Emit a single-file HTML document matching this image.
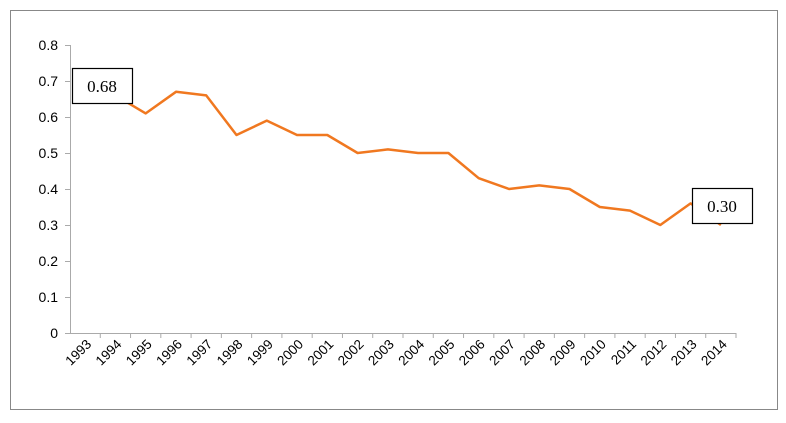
<!DOCTYPE html>
<html><head><meta charset="utf-8"><style>html,body{margin:0;padding:0;background:#fff}</style></head>
<body>
<svg width="786" height="418" xmlns="http://www.w3.org/2000/svg" font-family="Liberation Sans, sans-serif">
<rect x="10.5" y="10.5" width="767" height="399" fill="#fff" stroke="#888" stroke-width="1"/>
<g stroke="#aaa" stroke-width="1">
<line x1="70.5" y1="45" x2="70.5" y2="333"/>
<line x1="70" y1="333.5" x2="736" y2="333.5"/>
<line x1="65" y1="45.5" x2="70" y2="45.5"/><line x1="65" y1="81.5" x2="70" y2="81.5"/><line x1="65" y1="117.5" x2="70" y2="117.5"/><line x1="65" y1="153.5" x2="70" y2="153.5"/><line x1="65" y1="189.5" x2="70" y2="189.5"/><line x1="65" y1="225.5" x2="70" y2="225.5"/><line x1="65" y1="261.5" x2="70" y2="261.5"/><line x1="65" y1="297.5" x2="70" y2="297.5"/><line x1="65" y1="333.5" x2="70" y2="333.5"/>
</g>
<g id="xt" stroke="#aaa"></g>
<g font-size="14" fill="#000" text-anchor="end">
<text x="58" y="50">0.8</text><text x="58" y="86">0.7</text><text x="58" y="122">0.6</text><text x="58" y="158">0.5</text><text x="58" y="194">0.4</text><text x="58" y="230">0.3</text><text x="58" y="266">0.2</text><text x="58" y="302">0.1</text><text x="58" y="338">0</text>
</g>
<g id="xl" font-size="13.5" fill="#000" text-anchor="end"></g>
<polyline id="ln" fill="none" stroke="#f07820" stroke-width="2.5" stroke-linejoin="round"/>
<rect x="72.5" y="68.5" width="60" height="35" fill="#fff" stroke="#000" stroke-width="1.2"/>
<text x="102" y="92" font-family="Liberation Serif, serif" font-size="17" text-anchor="middle">0.68</text>
<rect x="692.5" y="188.5" width="60" height="35" fill="#fff" stroke="#000" stroke-width="1.2"/>
<text x="722" y="212" font-family="Liberation Serif, serif" font-size="17" text-anchor="middle">0.30</text>
</svg>
<script>
var v=[0.68,0.66,0.61,0.67,0.66,0.55,0.59,0.55,0.55,0.50,0.51,0.50,0.50,0.43,0.40,0.41,0.40,0.35,0.34,0.30,0.36,0.30];
var w=666/22,pts=[],xt='',xl='';
for(var i=0;i<22;i++){var x=70+w*(i+0.5);pts.push(x.toFixed(1)+','+(333-360*v[i]).toFixed(1));
var tx=70+w*(i+1);xt+='<line x1="'+tx+'" y1="333" x2="'+tx+'" y2="338"/>';
xl+='<text transform="translate('+(x+7)+',345) rotate(-45)">'+(1993+i)+'</text>';}
document.getElementById('ln').setAttribute('points',pts.join(' '));
document.getElementById('xt').innerHTML=xt;document.getElementById('xl').innerHTML=xl;
</script>
</body></html>
